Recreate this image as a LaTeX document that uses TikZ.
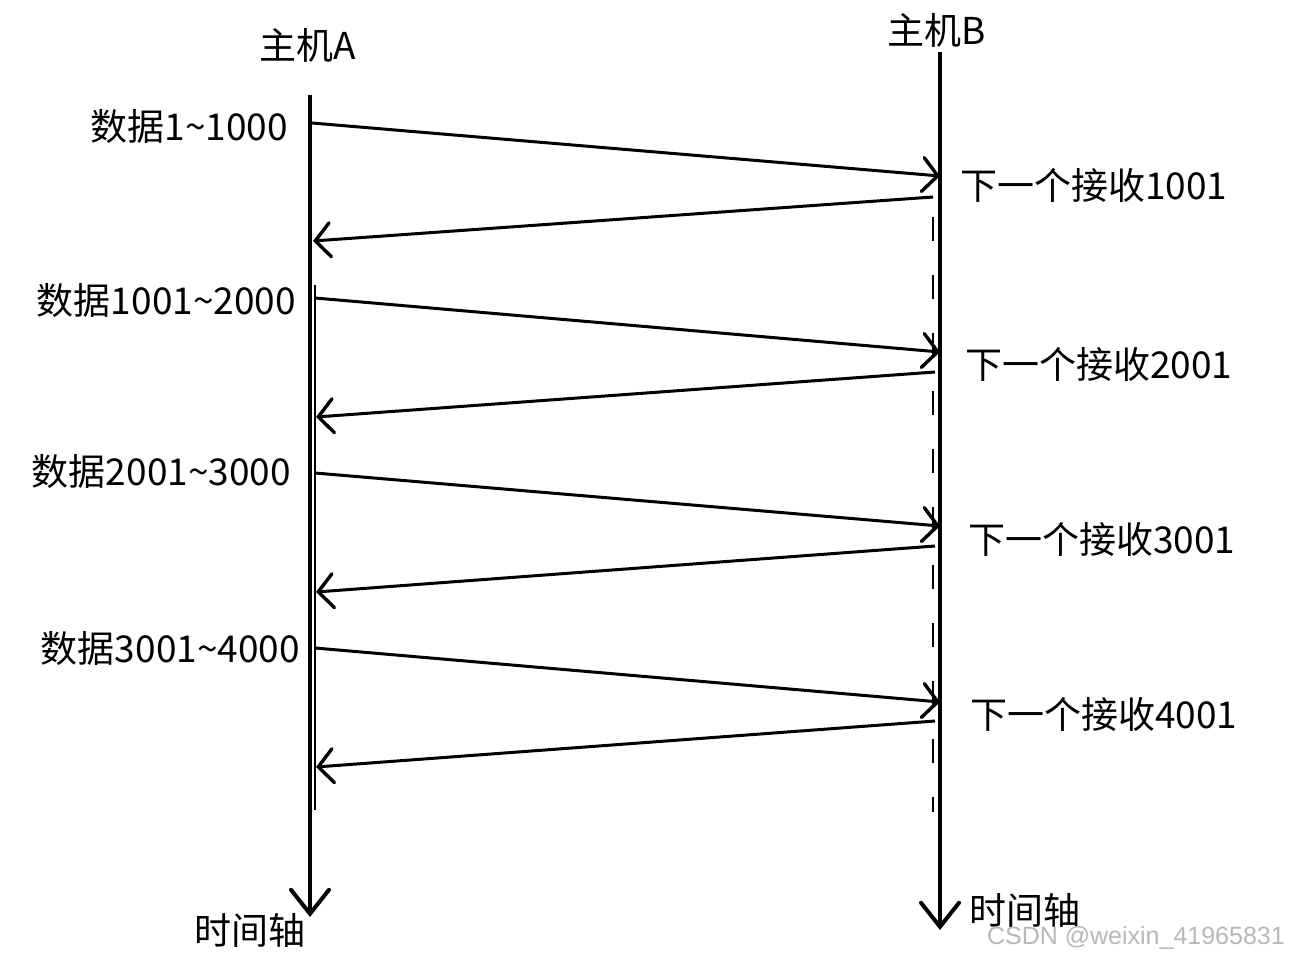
\documentclass[tikz,border=0pt]{standalone}
\usepackage{fontspec}
\setmainfont{Noto Sans CJK SC}
\newfontfamily\wmfont{Liberation Sans}
\usetikzlibrary{arrows.meta}
\begin{document}
\begin{tikzpicture}[x=1pt,y=-1pt,
  axis/.style={line width=4.2pt,-{Straight Barb[length=24pt,width=38pt,line width=4pt,line cap=round]}},
  msg/.style={line width=3pt,-{Straight Barb[length=15pt,width=34pt,line width=3.4pt,line cap=round]}},
  lbl/.style={font=\fontsize{37}{42}\selectfont,inner sep=0pt},
  wm/.style={font=\wmfont\fontsize{25}{28}\selectfont,text=black!28,inner sep=0pt}]
\useasboundingbox (0,0) rectangle (1289,958);
% axes
\coordinate (A0) at (310,95);
\coordinate (A1) at (310,917);
\coordinate (B0) at (940,52);
\coordinate (B1) at (940,930);
\draw[axis] (A0) -- (A1);
\draw[axis] (B0) -- (B1);
% thin secondary line and dashed traces
\coordinate (T0) at (315,285);
\coordinate (T1) at (315,810);
\draw[line width=1.3pt] (T0) -- (T1);
\coordinate (D0) at (933,217);
\coordinate (D1) at (933,812);
\draw[line width=2.5pt,dash pattern=on 24pt off 34pt] (D0) -- (D1);
% messages
\coordinate (s1) at (312,123); \coordinate (r1) at (940,176);
\coordinate (b1) at (933,197); \coordinate (a1) at (313,241);
\coordinate (s2) at (315,298); \coordinate (r2) at (940,352);
\coordinate (b2) at (935,372); \coordinate (a2) at (316,417);
\coordinate (s3) at (315,473); \coordinate (r3) at (940,526);
\coordinate (b3) at (935,546); \coordinate (a3) at (316,592);
\coordinate (s4) at (315,648); \coordinate (r4) at (940,702);
\coordinate (b4) at (935,721); \coordinate (a4) at (316,767);
\foreach \i in {1,2,3,4}{
  \draw[msg] (s\i) -- (r\i);
  \draw[msg] (b\i) -- (a\i);
}
% labels
\node[lbl] (hA) at (308,45) {主机A};
\node[lbl] (hB) at (937,30) {主机B};
\node[lbl,anchor=east] (d1) at (288,126) {数据1\char"007E 1000};
\node[lbl,anchor=east] (d2) at (296,300) {数据1001\char"007E 2000};
\node[lbl,anchor=east] (d3) at (291,471) {数据2001\char"007E 3000};
\node[lbl,anchor=east] (d4) at (300,648) {数据3001\char"007E 4000};
\node[lbl,anchor=west] (n1) at (960,185) {下一个接收1001};
\node[lbl,anchor=west] (n2) at (965,364) {下一个接收2001};
\node[lbl,anchor=west] (n3) at (968,539) {下一个接收3001};
\node[lbl,anchor=west] (n4) at (970,714) {下一个接收4001};
\node[lbl] (tA) at (250,930) {时间轴};
\node[lbl] (tB) at (1025,910) {时间轴};
\node[wm,anchor=east] (wm) at (1285,938) {CSDN @weixin\_41965831};
\end{tikzpicture}
\end{document}
